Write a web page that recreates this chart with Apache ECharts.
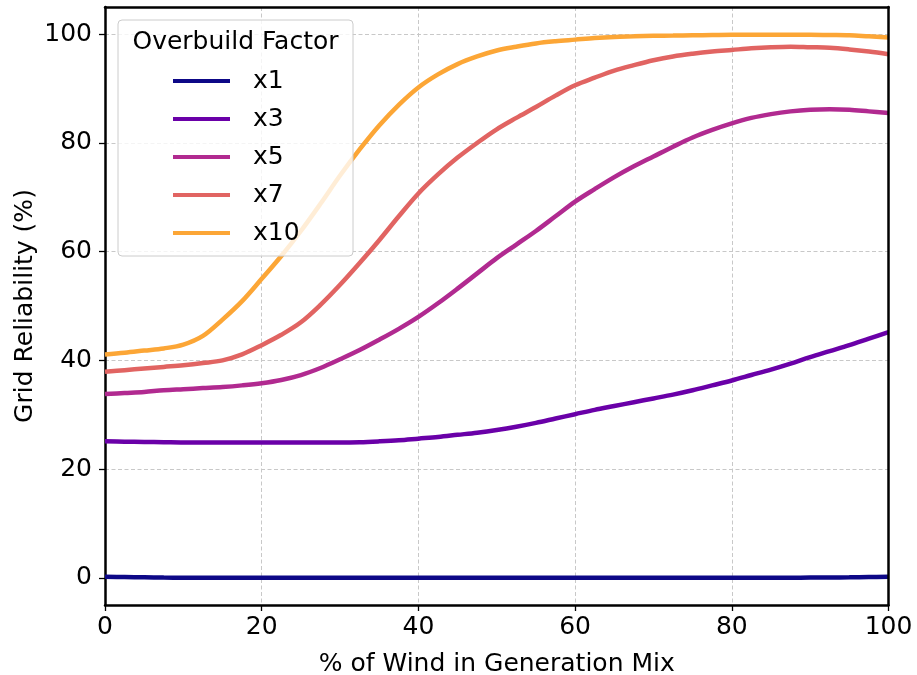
<!DOCTYPE html>
<html>
<head>
<meta charset="utf-8">
<script src="https://cdn.jsdelivr.net/npm/echarts@6/dist/echarts.min.js"></script>
<style>
html,body{margin:0;padding:0;background:#fff;}
#chart{width:917px;height:675px;}
</style>
</head>
<body>
<div id="chart"></div>
<script>
// ---- data ----
const windPct = [0, 2.5, 5, 7.5, 10, 12.5, 15, 17.5, 20, 22.5, 25, 27.5, 30, 32.5, 35, 37.5, 40, 42.5, 45, 47.5,
                 50, 52.5, 55, 57.5, 60, 62.5, 65, 67.5, 70, 72.5, 75, 77.5, 80, 82.5, 85, 87.5, 90, 92.5, 95, 97.5, 100];
const seriesNames = ['x1', 'x3', 'x5', 'x7', 'x10'];
const x1Values  = [0.2, 0.15, 0.1, 0.05, 0.02, 0, 0, 0, 0, 0, 0, 0, 0, 0, 0, 0, 0, 0, 0, 0,
                   0, 0, 0, 0, 0, 0, 0, 0, 0, 0, 0, 0, 0, 0, 0, 0.02, 0.04, 0.06, 0.1, 0.15, 0.2];
const x3Values  = [25.1, 25.05, 25.0, 24.95, 24.9, 24.9, 24.9, 24.9, 24.9, 24.9, 24.9, 24.9, 24.9, 24.95, 25.1, 25.3, 25.6, 25.9, 26.3, 26.7,
                   27.2, 27.8, 28.5, 29.3, 30.1, 30.9, 31.6, 32.3, 33.0, 33.7, 34.5, 35.4, 36.3, 37.3, 38.3, 39.4, 40.6, 41.7, 42.8, 44.0, 45.2];
const x5Values  = [33.8, 34.0, 34.2, 34.5, 34.7, 34.9, 35.1, 35.4, 35.8, 36.4, 37.3, 38.6, 40.2, 41.9, 43.8, 45.8, 48.0, 50.5, 53.2, 56.0,
                   58.8, 61.3, 63.8, 66.5, 69.2, 71.5, 73.7, 75.7, 77.5, 79.3, 81.0, 82.4, 83.6, 84.6, 85.3, 85.8, 86.1, 86.2, 86.1, 85.8, 85.5];
const x7Values  = [37.9, 38.2, 38.5, 38.8, 39.1, 39.5, 40.0, 41.1, 42.8, 44.7, 47.0, 50.2, 53.9, 57.9, 62.1, 66.5, 70.7, 74.2, 77.3, 80.0,
                   82.5, 84.6, 86.6, 88.7, 90.6, 92.0, 93.3, 94.3, 95.2, 95.9, 96.4, 96.8, 97.1, 97.4, 97.6, 97.7, 97.6, 97.5, 97.2, 96.8, 96.3];
const x10Values = [41.1, 41.4, 41.8, 42.2, 42.9, 44.5, 47.5, 50.9, 55.0, 59.2, 63.8, 68.8, 74.0, 78.8, 83.2, 87.0, 90.2, 92.6, 94.5, 95.9,
                   97.0, 97.7, 98.3, 98.7, 99.0, 99.3, 99.5, 99.6, 99.7, 99.75, 99.8, 99.85, 99.9, 99.9, 99.9, 99.9, 99.9, 99.85, 99.8, 99.6, 99.4];
const xTicks = [0, 20, 40, 60, 80, 100];
const yTicks = [0, 20, 40, 60, 80, 100];
const colors = ['#0d0887', '#6a00a8', '#b12a90', '#e16462', '#fca636'];

const allValues = [x1Values, x3Values, x5Values, x7Values, x10Values];
const FONT = 'DejaVu Sans';

const chart = echarts.init(document.getElementById('chart'), null, {renderer: 'canvas'});
const series = seriesNames.map((name, i) => ({
  name: name,
  type: 'line',
  xAxisIndex: 0, yAxisIndex: 0,
  data: windPct.map((x, j) => [x, allValues[i][j]]),
  smooth: 0.35,
  showSymbol: false,
  symbol: 'none',
  lineStyle: {width: 4.5, color: colors[i]},
  itemStyle: {color: colors[i]},
  z: 3
}));

const splitStyle = {color: '#c8c8c8', width: 1, type: [4, 2.5]};
const frameLine = {show: true, onZero: false, lineStyle: {color: '#000', width: 2.5}};

const option = {
  animation: false,
  backgroundColor: '#fff',
  grid: {left: 105, right: 28.5, top: 7, bottom: 70, show: false, containLabel: false, outerBoundsMode: 'none'},
  xAxis: [{
    type: 'value', min: 0, max: 100, interval: 20, position: 'bottom',
    name: '% of Wind in Generation Mix',
    nameLocation: 'middle', nameGap: 47,
    nameTextStyle: {fontFamily: FONT, fontSize: 25, color: '#000'},
    axisLine: frameLine,
    axisTick: {show: true, inside: false, length: 6, customValues: xTicks, lineStyle: {color: '#000', width: 1.3}},
    axisLabel: {fontFamily: FONT, fontSize: 25, color: '#000', margin: 10, customValues: xTicks},
    splitLine: {show: true, lineStyle: splitStyle},
    z: 0
  }, {
    type: 'value', min: 0, max: 100, interval: 20, position: 'top',
    axisLine: frameLine, axisTick: {show: false}, axisLabel: {show: false}, splitLine: {show: false},
    z: 5
  }],
  yAxis: [{
    type: 'value', min: -5, max: 105, position: 'left',
    name: 'Grid Reliability (%)',
    nameLocation: 'middle', nameGap: 67, nameMoveOverlap: false,
    nameTextStyle: {fontFamily: FONT, fontSize: 25, color: '#000'},
    axisLine: frameLine,
    axisTick: {show: true, inside: false, length: 6, customValues: yTicks, lineStyle: {color: '#000', width: 1.3}},
    axisLabel: {fontFamily: FONT, fontSize: 25, color: '#000', margin: 13, customValues: yTicks},
    splitLine: {show: true, lineStyle: splitStyle},
    z: 0
  }, {
    type: 'value', min: -5, max: 105, position: 'right',
    axisLine: frameLine, axisTick: {show: false}, axisLabel: {show: false}, splitLine: {show: false},
    z: 5
  }],
  legend: {
    show: true,
    orient: 'vertical',
    left: 168, top: 61,
    data: seriesNames,
    icon: 'rect',
    itemWidth: 57, itemHeight: 4,
    itemGap: 8,
    z: 12,
    textStyle: {fontFamily: FONT, fontSize: 25, color: '#000', lineHeight: 30, padding: [0, 0, 0, 18]}
  },
  graphic: [
    {
      type: 'rect', z: 10,
      shape: {x: 118, y: 20, width: 235, height: 236, r: 4},
      style: {fill: 'rgba(255,255,255,0.8)', stroke: '#cccccc', lineWidth: 1}
    },
    {
      type: 'text', z: 12, x: 235.5, y: 42,
      style: {text: 'Overbuild Factor', fontFamily: FONT, fontSize: 25, fill: '#000', align: 'center', verticalAlign: 'middle'}
    }
  ],
  series: series
};
chart.setOption(option);
</script>
</body>
</html>
